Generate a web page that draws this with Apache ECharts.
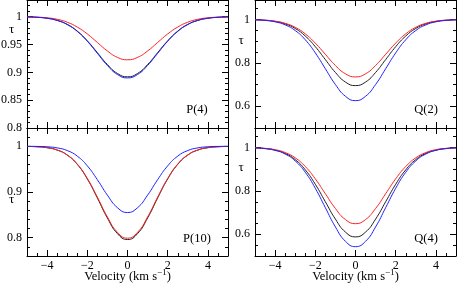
<!DOCTYPE html>
<html><head><meta charset="utf-8">
<script src="https://cdn.jsdelivr.net/npm/echarts@6/dist/echarts.min.js"></script>
<style>html,body{margin:0;padding:0;background:#fff}#c{width:458px;height:284px}</style>
</head><body><div id="c"></div>
<script>
const velocity = [-5,-4.5,-4,-3.5,-3,-2.5,-2,-1.5,-1,-0.5,0,0.5,1,1.5,2,2.5,3,3.5,4,4.5,5];

const p4Red   = [0.9997,0.9992,0.9980,0.9953,0.9901,0.9814,0.9690,0.9537,0.9384,0.9269,0.9226,0.9269,0.9384,0.9537,0.9690,0.9814,0.9901,0.9953,0.9980,0.9992,0.9997];
const p4Black = [0.9996,0.9989,0.9972,0.9934,0.9862,0.9741,0.9567,0.9354,0.9140,0.8980,0.8920,0.8980,0.9140,0.9354,0.9567,0.9741,0.9862,0.9934,0.9972,0.9989,0.9996];
const p4Blue  = [0.9996,0.9989,0.9972,0.9933,0.9859,0.9736,0.9559,0.9342,0.9124,0.8961,0.8900,0.8961,0.9124,0.9342,0.9559,0.9736,0.9859,0.9933,0.9972,0.9989,0.9996];

const q2Red   = [0.9990,0.9971,0.9924,0.9826,0.9642,0.9340,0.8913,0.8396,0.7882,0.7498,0.7355,0.7498,0.7882,0.8396,0.8913,0.9340,0.9642,0.9826,0.9924,0.9971,0.9990];
const q2Black = [0.9988,0.9966,0.9913,0.9800,0.9588,0.9240,0.8748,0.8153,0.7561,0.7118,0.6954,0.7118,0.7561,0.8153,0.8748,0.9240,0.9588,0.9800,0.9913,0.9966,0.9988];
const q2Blue  = [0.9985,0.9958,0.9893,0.9754,0.9494,0.9067,0.8462,0.7732,0.7005,0.6462,0.6260,0.6462,0.7005,0.7732,0.8462,0.9067,0.9494,0.9754,0.9893,0.9958,0.9985];

const p10Red   = [0.9997,0.9990,0.9970,0.9919,0.9811,0.9610,0.9297,0.8887,0.8454,0.8118,0.7990,0.8118,0.8454,0.8887,0.9297,0.9610,0.9811,0.9919,0.9970,0.9990,0.9997];
const p10Black = [0.9997,0.9990,0.9969,0.9918,0.9808,0.9605,0.9286,0.8870,0.8431,0.8090,0.7960,0.8090,0.8431,0.8870,0.9286,0.9605,0.9808,0.9918,0.9969,0.9990,0.9997];
const p10Blue  = [0.9999,0.9997,0.9989,0.9965,0.9907,0.9785,0.9572,0.9270,0.8931,0.8657,0.8550,0.8657,0.8931,0.9270,0.9572,0.9785,0.9907,0.9965,0.9989,0.9997,0.9999];

const q4Red   = [0.9986,0.9961,0.9900,0.9769,0.9525,0.9125,0.8557,0.7871,0.7190,0.6680,0.6490,0.6680,0.7190,0.7871,0.8557,0.9125,0.9525,0.9769,0.9900,0.9961,0.9986];
const q4Black = [0.9984,0.9954,0.9882,0.9729,0.9443,0.8972,0.8306,0.7501,0.6701,0.6102,0.5880,0.6102,0.6701,0.7501,0.8306,0.8972,0.9443,0.9729,0.9882,0.9954,0.9984];
const q4Blue  = [0.9982,0.9949,0.9869,0.9700,0.9382,0.8860,0.8121,0.7228,0.6341,0.5677,0.5430,0.5677,0.6341,0.7228,0.8121,0.8860,0.9382,0.9700,0.9869,0.9949,0.9982];

const xMajorTicks = [-4,-2,0,2,4];
const yTicksP4  = [0.8,0.85,0.9,0.95,1];
const yTicksP10 = [0.8,0.9,1];
const yTicksQ   = [0.6,0.8,1];
const panelLabels = ['P(4)','Q(2)','P(10)','Q(4)'];

const FONT = 'Liberation Serif';
const panels = [
  {label:panelLabels[0], red:p4Red,  black:p4Black,  blue:p4Blue,  yMin:0.8,  yMax:1.03, yMinor:0.01, yMajor:yTicksP4,  xLab:false, grid:{left:27,top:0,width:201,height:128}, tau:[11.5,29.5], lab:[197,110]},
  {label:panelLabels[1], red:q2Red,  black:q2Black,  blue:q2Blue,  yMin:0.5,  yMax:1.09, yMinor:0.05, yMajor:yTicksQ,   xLab:false, grid:{left:255,top:0,width:201,height:128}, tau:[241,40.5], lab:[426,110]},
  {label:panelLabels[2], red:p10Red, black:p10Black, blue:p10Blue, yMin:0.76, yMax:1.04, yMinor:0.02, yMajor:yTicksP10, xLab:true,  grid:{left:27,top:128,width:201,height:128}, tau:[11.5,200], lab:[197,238.5]},
  {label:panelLabels[3], red:q4Red,  black:q4Black,  blue:q4Blue,  yMin:0.5,  yMax:1.09, yMinor:0.05, yMajor:yTicksQ,   xLab:true,  grid:{left:255,top:128,width:201,height:128}, tau:[241,168], lab:[426,239]}
];

const fmtX = v => v < 0 ? '\u2212' + (-v) : String(v);
const fmtY = v => String(+(+v).toFixed(2));
const lineBlack = {color:'#000', width:1};

const grids = [], xAxes = [], yAxes = [], series = [], graphics = [];
panels.forEach((p, g) => {
  grids.push(Object.assign({outerBoundsMode:'none', containLabel:false}, p.grid));
  ['bottom','top'].forEach(pos => {
    xAxes.push({gridIndex:g, type:'value', min:-5, max:5, interval:0.5, position:pos,
      axisLine:{show:true, onZero:false, lineStyle:lineBlack},
      axisTick:{show:true, inside:true, length:3, lineStyle:lineBlack},
      axisLabel:{show:false}, splitLine:{show:false}});
    xAxes.push({gridIndex:g, type:'value', min:-5, max:5, interval:0.5, position:pos,
      axisLine:{show:false, onZero:false},
      axisTick:{show:true, inside:true, length:6, lineStyle:lineBlack, customValues:xMajorTicks},
      axisLabel:{show:(p.xLab && pos==='bottom'), customValues:xMajorTicks, formatter:fmtX, margin:4,
        color:'#000', fontFamily:FONT, fontSize:12},
      splitLine:{show:false}});
  });
  ['left','right'].forEach(pos => {
    yAxes.push({gridIndex:g, type:'value', min:p.yMin, max:p.yMax, interval:p.yMinor, position:pos,
      axisLine:{show:true, onZero:false, lineStyle:lineBlack},
      axisTick:{show:true, inside:true, length:3, lineStyle:lineBlack},
      axisLabel:{show:false}, splitLine:{show:false}});
    yAxes.push({gridIndex:g, type:'value', min:p.yMin, max:p.yMax, interval:p.yMinor, position:pos,
      axisLine:{show:false, onZero:false},
      axisTick:{show:true, inside:true, length:6, lineStyle:lineBlack, customValues:p.yMajor},
      axisLabel:{show:pos==='left', customValues:p.yMajor, formatter:fmtY, margin:5,
        color:'#000', fontFamily:FONT, fontSize:12},
      splitLine:{show:false}});
  });
  const mk = (vals, color) => ({type:'line', xAxisIndex:4*g, yAxisIndex:4*g, showSymbol:false, smooth:true,
    silent:true, lineStyle:{color, width:1}, data: velocity.map((v,i)=>[v, vals[i]])});
  series.push(mk(p.black,'#202020'), mk(p.red,'#ff2020'), mk(p.blue,'#2020ff'));
  graphics.push({type:'text', x:p.tau[0], y:p.tau[1], style:{text:'\u03c4', fontFamily:FONT, fontSize:13, fill:'#000', align:'center', verticalAlign:'middle'}});
  graphics.push({type:'text', x:p.lab[0], y:p.lab[1], style:{text:p.label, fontFamily:FONT, fontSize:12.5, fill:'#000', align:'center', verticalAlign:'middle'}});
  if (p.xLab) {
    graphics.push({type:'text', x:p.grid.left + p.grid.width/2, y:277, style:{
      text:'{a|Velocity (km s}{b|\u22121}{a|)}', align:'center', verticalAlign:'middle', fill:'#000',
      rich:{a:{fontFamily:FONT, fontSize:12.5, fill:'#000'}, b:{fontFamily:FONT, fontSize:9, fill:'#000', padding:[0,0,8,0]}}}});
  }
});

const chart = echarts.init(document.getElementById('c'), null, {renderer:'canvas'});
chart.setOption({animation:false, backgroundColor:'#fff', grid:grids, xAxis:xAxes, yAxis:yAxes, series, graphic:graphics});
</script></body></html>
